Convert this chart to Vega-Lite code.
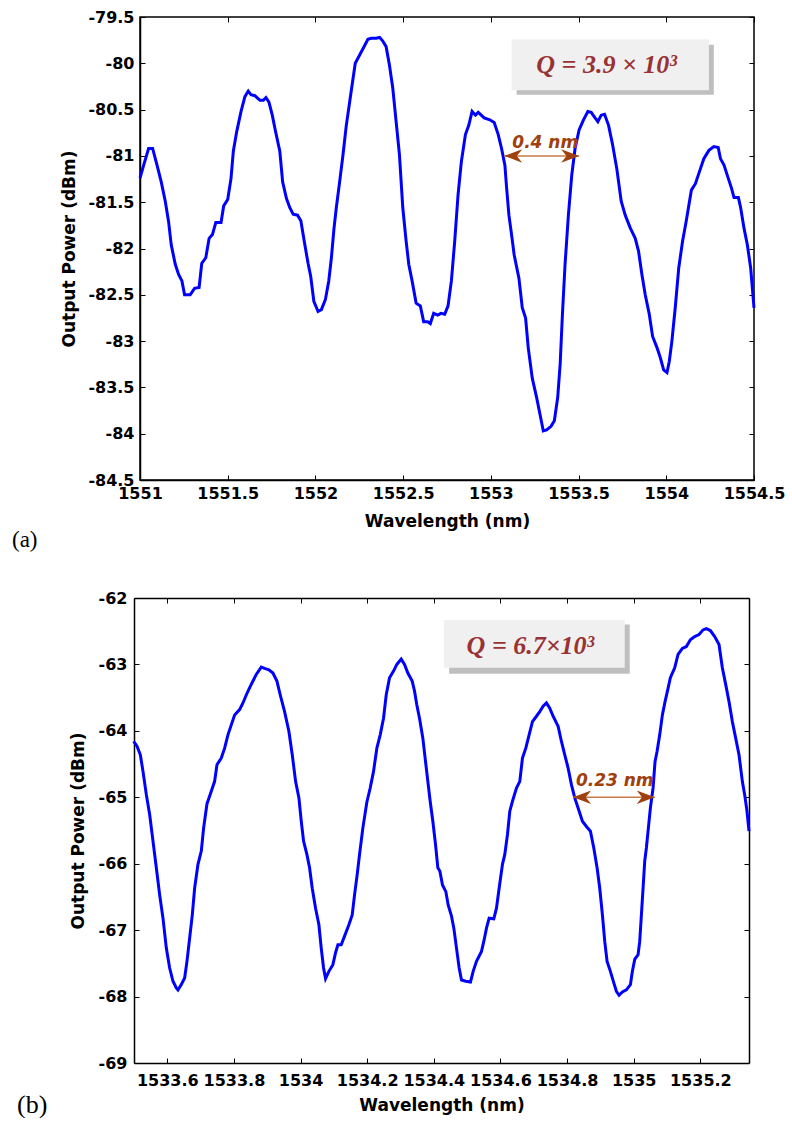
{
  "$schema": "https://vega.github.io/schema/vega-lite/v6.json",
  "background": "white",
  "padding": {"left": 11, "top": 8, "right": 5, "bottom": 0},
  "spacing": 37,
  "datasets": {
    "curveA": [
      {"x":1551.000,"y":-81.24},{"x":1551.021,"y":-81.10},{"x":1551.049,"y":-80.92},{"x":1551.072,"y":-80.92},{"x":1551.097,"y":-81.10},{"x":1551.121,"y":-81.28},{"x":1551.144,"y":-81.49},{"x":1551.163,"y":-81.71},{"x":1551.178,"y":-81.96},{"x":1551.201,"y":-82.17},{"x":1551.220,"y":-82.28},{"x":1551.239,"y":-82.35},{"x":1551.254,"y":-82.50},{"x":1551.286,"y":-82.50},{"x":1551.311,"y":-82.43},{"x":1551.337,"y":-82.42},{"x":1551.352,"y":-82.16},{"x":1551.375,"y":-82.10},{"x":1551.394,"y":-81.89},{"x":1551.413,"y":-81.85},{"x":1551.432,"y":-81.72},{"x":1551.462,"y":-81.72},{"x":1551.477,"y":-81.54},{"x":1551.500,"y":-81.47},{"x":1551.519,"y":-81.24},{"x":1551.532,"y":-80.95},{"x":1551.551,"y":-80.74},{"x":1551.576,"y":-80.52},{"x":1551.598,"y":-80.36},{"x":1551.617,"y":-80.30},{"x":1551.633,"y":-80.34},{"x":1551.655,"y":-80.35},{"x":1551.684,"y":-80.40},{"x":1551.703,"y":-80.40},{"x":1551.718,"y":-80.37},{"x":1551.735,"y":-80.42},{"x":1551.754,"y":-80.56},{"x":1551.773,"y":-80.74},{"x":1551.797,"y":-80.95},{"x":1551.813,"y":-81.28},{"x":1551.835,"y":-81.46},{"x":1551.854,"y":-81.56},{"x":1551.873,"y":-81.63},{"x":1551.898,"y":-81.64},{"x":1551.917,"y":-81.70},{"x":1551.936,"y":-81.92},{"x":1551.958,"y":-82.16},{"x":1551.973,"y":-82.30},{"x":1551.991,"y":-82.57},{"x":1552.015,"y":-82.68},{"x":1552.034,"y":-82.66},{"x":1552.057,"y":-82.55},{"x":1552.076,"y":-82.35},{"x":1552.091,"y":-82.10},{"x":1552.106,"y":-81.78},{"x":1552.119,"y":-81.56},{"x":1552.138,"y":-81.28},{"x":1552.157,"y":-80.99},{"x":1552.176,"y":-80.67},{"x":1552.201,"y":-80.34},{"x":1552.227,"y":-80.00},{"x":1552.252,"y":-79.91},{"x":1552.280,"y":-79.81},{"x":1552.299,"y":-79.74},{"x":1552.318,"y":-79.73},{"x":1552.347,"y":-79.73},{"x":1552.366,"y":-79.72},{"x":1552.384,"y":-79.76},{"x":1552.403,"y":-79.82},{"x":1552.422,"y":-80.02},{"x":1552.441,"y":-80.27},{"x":1552.460,"y":-80.63},{"x":1552.479,"y":-80.99},{"x":1552.498,"y":-81.56},{"x":1552.517,"y":-81.92},{"x":1552.532,"y":-82.17},{"x":1552.551,"y":-82.35},{"x":1552.574,"y":-82.59},{"x":1552.598,"y":-82.62},{"x":1552.617,"y":-82.79},{"x":1552.640,"y":-82.79},{"x":1552.655,"y":-82.81},{"x":1552.674,"y":-82.70},{"x":1552.697,"y":-82.72},{"x":1552.716,"y":-82.70},
      {"x":1552.737,"y":-82.71},{"x":1552.756,"y":-82.62},{"x":1552.775,"y":-82.35},{"x":1552.794,"y":-81.92},{"x":1552.813,"y":-81.42},{"x":1552.832,"y":-81.06},{"x":1552.855,"y":-80.77},{"x":1552.874,"y":-80.67},{"x":1552.893,"y":-80.52},{"x":1552.912,"y":-80.56},{"x":1552.928,"y":-80.53},{"x":1552.962,"y":-80.59},{"x":1552.994,"y":-80.61},{"x":1553.019,"y":-80.64},{"x":1553.042,"y":-80.77},{"x":1553.061,"y":-80.92},{"x":1553.080,"y":-81.10},{"x":1553.090,"y":-81.35},{"x":1553.103,"y":-81.64},{"x":1553.118,"y":-81.85},{"x":1553.133,"y":-82.07},{"x":1553.160,"y":-82.32},{"x":1553.179,"y":-82.64},{"x":1553.198,"y":-82.75},{"x":1553.213,"y":-83.07},{"x":1553.236,"y":-83.40},{"x":1553.261,"y":-83.61},{"x":1553.280,"y":-83.79},{"x":1553.299,"y":-83.97},{"x":1553.318,"y":-83.96},{"x":1553.343,"y":-83.92},{"x":1553.362,"y":-83.86},{"x":1553.381,"y":-83.61},{"x":1553.395,"y":-83.25},{"x":1553.408,"y":-82.71},{"x":1553.423,"y":-82.17},{"x":1553.442,"y":-81.64},{"x":1553.461,"y":-81.21},{"x":1553.480,"y":-80.92},{"x":1553.503,"y":-80.72},{"x":1553.528,"y":-80.61},{"x":1553.553,"y":-80.52},{"x":1553.572,"y":-80.53},{"x":1553.591,"y":-80.58},{"x":1553.610,"y":-80.63},{"x":1553.629,"y":-80.56},{"x":1553.648,"y":-80.55},{"x":1553.671,"y":-80.67},{"x":1553.694,"y":-80.88},{"x":1553.718,"y":-81.14},{"x":1553.743,"y":-81.49},{"x":1553.766,"y":-81.64},{"x":1553.795,"y":-81.78},{"x":1553.823,"y":-81.89},{"x":1553.842,"y":-82.03},{"x":1553.861,"y":-82.28},{"x":1553.880,"y":-82.50},{"x":1553.903,"y":-82.71},{"x":1553.922,"y":-82.95},{"x":1553.947,"y":-83.07},{"x":1553.966,"y":-83.18},{"x":1553.985,"y":-83.31},{"x":1554.004,"y":-83.34},{"x":1554.017,"y":-83.22},{"x":1554.032,"y":-83.00},{"x":1554.051,"y":-82.64},{"x":1554.071,"y":-82.21},{"x":1554.093,"y":-81.92},{"x":1554.113,"y":-81.71},{"x":1554.143,"y":-81.37},{"x":1554.166,"y":-81.30},{"x":1554.189,"y":-81.17},{"x":1554.214,"y":-81.03},{"x":1554.243,"y":-80.94},{"x":1554.271,"y":-80.90},{"x":1554.296,"y":-80.91},{"x":1554.309,"y":-81.03},{"x":1554.329,"y":-81.10},{"x":1554.353,"y":-81.24},{"x":1554.372,"y":-81.35},{"x":1554.386,"y":-81.45},{"x":1554.411,"y":-81.45},{"x":1554.424,"y":-81.56},{"x":1554.443,"y":-81.78},{"x":1554.462,"y":-81.96},{"x":1554.481,"y":-82.21},{"x":1554.500,"y":-82.64}
    ],
    "curveB": [
      {"x":1533.499,"y":-64.16},{"x":1533.509,"y":-64.23},{"x":1533.519,"y":-64.36},{"x":1533.527,"y":-64.61},{"x":1533.537,"y":-64.96},{"x":1533.547,"y":-65.26},{"x":1533.557,"y":-65.66},{"x":1533.567,"y":-66.06},{"x":1533.577,"y":-66.47},{"x":1533.587,"y":-66.82},{"x":1533.597,"y":-67.27},{"x":1533.607,"y":-67.57},{"x":1533.617,"y":-67.77},{"x":1533.627,"y":-67.87},{"x":1533.632,"y":-67.90},{"x":1533.642,"y":-67.82},{"x":1533.652,"y":-67.72},{"x":1533.659,"y":-67.47},{"x":1533.667,"y":-67.12},{"x":1533.675,"y":-66.77},{"x":1533.682,"y":-66.37},{"x":1533.692,"y":-66.01},{"x":1533.702,"y":-65.81},{"x":1533.709,"y":-65.46},{"x":1533.719,"y":-65.10},{"x":1533.732,"y":-64.91},{"x":1533.742,"y":-64.76},{"x":1533.749,"y":-64.51},{"x":1533.762,"y":-64.41},{"x":1533.772,"y":-64.26},{"x":1533.782,"y":-64.06},{"x":1533.792,"y":-63.91},{"x":1533.802,"y":-63.76},{"x":1533.817,"y":-63.68},{"x":1533.827,"y":-63.58},{"x":1533.837,"y":-63.46},{"x":1533.849,"y":-63.33},{"x":1533.859,"y":-63.23},{"x":1533.867,"y":-63.15},{"x":1533.882,"y":-63.04},{"x":1533.892,"y":-63.06},{"x":1533.905,"y":-63.08},{"x":1533.917,"y":-63.13},{"x":1533.929,"y":-63.25},{"x":1533.939,"y":-63.46},{"x":1533.952,"y":-63.71},{"x":1533.965,"y":-64.01},{"x":1533.975,"y":-64.36},{"x":1533.985,"y":-64.76},{"x":1533.995,"y":-65.01},{"x":1534.002,"y":-65.36},{"x":1534.009,"y":-65.66},{"x":1534.019,"y":-65.86},{"x":1534.027,"y":-66.06},{"x":1534.035,"y":-66.37},{"x":1534.045,"y":-66.67},{"x":1534.055,"y":-66.92},{"x":1534.062,"y":-67.27},{"x":1534.069,"y":-67.57},{"x":1534.075,"y":-67.73},{"x":1534.085,"y":-67.62},{"x":1534.097,"y":-67.52},{"x":1534.105,"y":-67.34},{"x":1534.112,"y":-67.22},{"x":1534.122,"y":-67.22},{"x":1534.132,"y":-67.09},{"x":1534.145,"y":-66.92},{"x":1534.155,"y":-66.77},{"x":1534.162,"y":-66.47},{"x":1534.170,"y":-66.16},{"x":1534.177,"y":-65.86},{"x":1534.187,"y":-65.46},{"x":1534.199,"y":-65.07},{"x":1534.209,"y":-64.86},{"x":1534.219,"y":-64.61},{"x":1534.229,"y":-64.26},{"x":1534.239,"y":-64.06},{"x":1534.249,"y":-63.81},{"x":1534.257,"y":-63.46},{"x":1534.267,"y":-63.20},{"x":1534.279,"y":-63.10},{"x":1534.289,"y":-63.00},{"x":1534.302,"y":-62.92},{"x":1534.312,"y":-63.00},{"x":1534.322,"y":-63.13},{"x":1534.335,"y":-63.25},{"x":1534.342,"y":-63.40},{"x":1534.349,"y":-63.61},{"x":1534.357,"y":-63.81},{"x":1534.367,"y":-64.11},{"x":1534.375,"y":-64.46},{"x":1534.382,"y":-64.76},{"x":1534.389,"y":-65.06},{"x":1534.397,"y":-65.36},{"x":1534.405,"y":-65.71},{"x":1534.412,"y":-66.06},
      {"x":1534.418,"y":-66.11},{"x":1534.426,"y":-66.32},{"x":1534.436,"y":-66.42},{"x":1534.443,"y":-66.62},{"x":1534.453,"y":-66.79},{"x":1534.460,"y":-66.97},{"x":1534.468,"y":-67.27},{"x":1534.476,"y":-67.57},{"x":1534.483,"y":-67.75},{"x":1534.496,"y":-67.77},{"x":1534.510,"y":-67.78},{"x":1534.518,"y":-67.62},{"x":1534.528,"y":-67.47},{"x":1534.543,"y":-67.32},{"x":1534.550,"y":-67.17},{"x":1534.558,"y":-66.97},{"x":1534.566,"y":-66.82},{"x":1534.580,"y":-66.83},{"x":1534.588,"y":-66.67},{"x":1534.596,"y":-66.37},{"x":1534.606,"y":-66.01},{"x":1534.613,"y":-65.86},{"x":1534.621,"y":-65.56},{"x":1534.628,"y":-65.21},{"x":1534.636,"y":-65.06},{"x":1534.648,"y":-64.86},{"x":1534.658,"y":-64.76},{"x":1534.666,"y":-64.41},{"x":1534.676,"y":-64.26},{"x":1534.686,"y":-64.06},{"x":1534.696,"y":-63.86},{"x":1534.708,"y":-63.78},{"x":1534.718,"y":-63.71},{"x":1534.728,"y":-63.63},{"x":1534.738,"y":-63.58},{"x":1534.748,"y":-63.66},{"x":1534.758,"y":-63.78},{"x":1534.773,"y":-63.93},{"x":1534.783,"y":-64.16},{"x":1534.793,"y":-64.36},{"x":1534.803,"y":-64.56},{"x":1534.813,"y":-64.81},{"x":1534.823,"y":-65.01},{"x":1534.833,"y":-65.16},{"x":1534.846,"y":-65.36},{"x":1534.858,"y":-65.44},{"x":1534.870,"y":-65.51},{"x":1534.880,"y":-65.76},{"x":1534.890,"y":-66.06},{"x":1534.898,"y":-66.37},{"x":1534.906,"y":-66.77},{"x":1534.913,"y":-67.17},{"x":1534.920,"y":-67.47},{"x":1534.930,"y":-67.62},{"x":1534.940,"y":-67.79},{"x":1534.948,"y":-67.92},{"x":1534.956,"y":-67.98},{"x":1534.966,"y":-67.93},{"x":1534.978,"y":-67.90},{"x":1534.990,"y":-67.82},{"x":1534.996,"y":-67.62},{"x":1535.003,"y":-67.44},{"x":1535.013,"y":-67.37},{"x":1535.018,"y":-67.17},{"x":1535.023,"y":-66.77},{"x":1535.028,"y":-66.37},{"x":1535.033,"y":-65.96},{"x":1535.038,"y":-65.76},{"x":1535.044,"y":-65.46},{"x":1535.050,"y":-65.16},{"x":1535.058,"y":-64.86},{"x":1535.064,"y":-64.46},{"x":1535.070,"y":-64.31},{"x":1535.078,"y":-64.06},{"x":1535.086,"y":-63.76},{"x":1535.094,"y":-63.56},{"x":1535.103,"y":-63.36},{"x":1535.110,"y":-63.20},{"x":1535.123,"y":-63.05},{"x":1535.133,"y":-62.85},{"x":1535.146,"y":-62.76},{"x":1535.158,"y":-62.73},{"x":1535.170,"y":-62.63},{"x":1535.183,"y":-62.58},{"x":1535.196,"y":-62.55},{"x":1535.208,"y":-62.48},{"x":1535.218,"y":-62.46},{"x":1535.230,"y":-62.49},{"x":1535.243,"y":-62.58},{"x":1535.256,"y":-62.70},{"x":1535.266,"y":-63.05},{"x":1535.276,"y":-63.30},{"x":1535.286,"y":-63.56},{"x":1535.296,"y":-63.86},{"x":1535.306,"y":-64.11},{"x":1535.316,"y":-64.36},{"x":1535.326,"y":-64.76},{"x":1535.333,"y":-64.96},{"x":1535.340,"y":-65.21},{"x":1535.346,"y":-65.51}
    ],
    "shadowA": [{"x":1553.147,"x2":1554.271,"y":-79.80,"y2":-80.34}],
    "boxA": [{"x":1553.118,"x2":1554.243,"y":-79.74,"y2":-80.29}],
    "qA": [{"x":1553.66,"y":-80.02,"label":"Q = 3.9 × 10³"}],
    "arrowA": [{"x":1553.076,"x2":1553.503,"y":-81.0}],
    "headLA": [{"x":1553.076,"y":-81.0}],
    "headRA": [{"x":1553.503,"y":-81.0}],
    "labA": [{"x":1553.31,"y":-80.86,"label":"0.4 nm"}],
    "shadowB": [{"x":1534.446,"x2":1534.988,"y":-62.40,"y2":-63.14}],
    "boxB": [{"x":1534.430,"x2":1534.973,"y":-62.33,"y2":-63.05}],
    "qB": [{"x":1534.69,"y":-62.72,"label":"Q = 6.7×10³"}],
    "arrowB": [{"x":1534.818,"x2":1535.063,"y":-65.0}],
    "headLB": [{"x":1534.818,"y":-65.0}],
    "headRB": [{"x":1535.063,"y":-65.0}],
    "labB": [{"x":1534.943,"y":-64.76,"label":"0.23 nm"}]
  },
  "vconcat": [
    {
      "width": 614,
      "height": 463,
      "title": {"text": "(a)", "orient": "bottom", "anchor": "start", "frame": "group", "dx": -128, "offset": 0, "fontSize": 23},
      "encoding": {
        "x": {"field": "x", "type": "quantitative", "scale": {"domain": [1551, 1554.5], "nice": false, "zero": false}, "axis": null},
        "y": {"field": "y", "type": "quantitative", "scale": {"domain": [-84.5, -79.5], "nice": false, "zero": false}, "axis": null}
      },
      "resolve": {"axis": {"x": "independent", "y": "independent"}},
      "layer": [
        {"data": {"name": "shadowA"}, "mark": {"type": "rect", "color": "#bfbfbf"},
         "encoding": {"x2": {"field": "x2"}, "y2": {"field": "y2"}}},
        {"data": {"name": "boxA"}, "mark": {"type": "rect", "color": "#f0f0f0"},
         "encoding": {"x2": {"field": "x2"}, "y2": {"field": "y2"}}},
        {"data": {"name": "qA"}, "mark": {"type": "text", "font": "Liberation Serif", "fontSize": 26, "fontWeight": "bold", "fontStyle": "italic", "color": "#993333"},
         "encoding": {"text": {"field": "label"}}},
        {"data": {"name": "curveA"}, "mark": {"type": "line", "color": "#0000ff", "strokeWidth": 3},
         "encoding": {
           "x": {"field": "x", "type": "quantitative", "scale": {"domain": [1551, 1554.5], "nice": false, "zero": false},
                 "axis": {"orient": "bottom", "title": "Wavelength (nm)", "values": [1551, 1551.5, 1552, 1552.5, 1553, 1553.5, 1554, 1554.5], "labelExpr": "datum.value + ''", "titlePadding": 12}},
           "y": {"field": "y", "type": "quantitative", "scale": {"domain": [-84.5, -79.5], "nice": false, "zero": false},
                 "axis": {"orient": "left", "title": "Output Power (dBm)", "values": [-84.5, -84, -83.5, -83, -82.5, -82, -81.5, -81, -80.5, -80, -79.5], "labelExpr": "datum.value + ''", "labelPadding": 11, "titlePadding": 9}}
         }},
        {"data": {"name": "arrowA"}, "mark": {"type": "rule", "color": "#c77a4a", "strokeWidth": 1.5},
         "encoding": {"x2": {"field": "x2"}}},
        {"data": {"name": "headLA"}, "mark": {"type": "point", "shape": "M0,0 L2,-0.75 L1.4,0 L2,0.75 Z", "size": 324, "filled": true, "color": "#a0400c", "opacity": 1}},
        {"data": {"name": "headRA"}, "mark": {"type": "point", "shape": "M0,0 L-2,-0.75 L-1.4,0 L-2,0.75 Z", "size": 324, "filled": true, "color": "#a0400c", "opacity": 1}},
        {"data": {"name": "labA"}, "mark": {"type": "text", "font": "DejaVu Sans", "fontSize": 17, "fontWeight": "bold", "fontStyle": "italic", "color": "#a0400c"},
         "encoding": {"text": {"field": "label"}}},
        {"data": {"name": "qA"}, "mark": {"type": "point", "opacity": 0},
         "encoding": {
           "x": {"field": "x", "type": "quantitative", "scale": {"domain": [1551, 1554.5], "nice": false, "zero": false},
                 "axis": {"orient": "top", "title": null, "labels": false, "domain": false, "values": [1551, 1551.5, 1552, 1552.5, 1553, 1553.5, 1554, 1554.5]}},
           "y": {"field": "y", "type": "quantitative", "scale": {"domain": [-84.5, -79.5], "nice": false, "zero": false},
                 "axis": {"orient": "right", "title": null, "labels": false, "domain": false, "values": [-84.5, -84, -83.5, -83, -82.5, -82, -81.5, -81, -80.5, -80, -79.5]}}
         }}
      ]
    },
    {
      "width": 609,
      "height": 465,
      "view": {"stroke": null},
      "title": {"text": "(b)", "orient": "bottom", "anchor": "start", "frame": "group", "dx": -123, "offset": -21, "fontSize": 26},
      "encoding": {
        "x": {"field": "x", "type": "quantitative", "scale": {"domain": [1533.5, 1535.346], "range": [-6, 609], "nice": false, "zero": false}, "axis": null},
        "y": {"field": "y", "type": "quantitative", "scale": {"domain": [-69, -62], "nice": false, "zero": false}, "axis": null}
      },
      "resolve": {"axis": {"x": "independent", "y": "independent"}},
      "layer": [
        {"data": {"name": "shadowB"}, "mark": {"type": "rect", "color": "#bfbfbf"},
         "encoding": {"x2": {"field": "x2"}, "y2": {"field": "y2"}}},
        {"data": {"name": "boxB"}, "mark": {"type": "rect", "color": "#f0f0f0"},
         "encoding": {"x2": {"field": "x2"}, "y2": {"field": "y2"}}},
        {"data": {"name": "qB"}, "mark": {"type": "text", "font": "Liberation Serif", "fontSize": 26, "fontWeight": "bold", "fontStyle": "italic", "color": "#993333"},
         "encoding": {"text": {"field": "label"}}},
        {"data": {"name": "curveB"}, "mark": {"type": "line", "color": "#0000ff", "strokeWidth": 3},
         "encoding": {
           "x": {"field": "x", "type": "quantitative", "scale": {"domain": [1533.5, 1535.346], "range": [-6, 609], "nice": false, "zero": false},
                 "axis": {"orient": "bottom", "title": "Wavelength (nm)", "values": [1533.6, 1533.8, 1534, 1534.2, 1534.4, 1534.6, 1534.8, 1535, 1535.2], "labelExpr": "datum.value + ''", "labelPadding": 14, "titlePadding": 9}},
           "y": {"field": "y", "type": "quantitative", "scale": {"domain": [-69, -62], "nice": false, "zero": false},
                 "axis": {"orient": "left", "offset": 6, "title": "Output Power (dBm)", "values": [-69, -68, -67, -66, -65, -64, -63, -62], "labelExpr": "datum.value + ''", "labelPadding": 12, "titlePadding": 11}}
         }},
        {"data": {"name": "arrowB"}, "mark": {"type": "rule", "color": "#c77a4a", "strokeWidth": 1.5},
         "encoding": {"x2": {"field": "x2"}}},
        {"data": {"name": "headLB"}, "mark": {"type": "point", "shape": "M0,0 L2,-0.75 L1.4,0 L2,0.75 Z", "size": 324, "filled": true, "color": "#a0400c", "opacity": 1}},
        {"data": {"name": "headRB"}, "mark": {"type": "point", "shape": "M0,0 L-2,-0.75 L-1.4,0 L-2,0.75 Z", "size": 324, "filled": true, "color": "#a0400c", "opacity": 1}},
        {"data": {"name": "labB"}, "mark": {"type": "text", "font": "DejaVu Sans", "fontSize": 17, "fontWeight": "bold", "fontStyle": "italic", "color": "#a0400c"},
         "encoding": {"text": {"field": "label"}}},
        {"data": {"name": "qB"}, "mark": {"type": "point", "opacity": 0},
         "encoding": {
           "x": {"field": "x", "type": "quantitative", "scale": {"domain": [1533.5, 1535.346], "range": [-6, 609], "nice": false, "zero": false},
                 "axis": {"orient": "top", "title": null, "labels": false, "domain": true, "values": [1533.6, 1533.8, 1534, 1534.2, 1534.4, 1534.6, 1534.8, 1535, 1535.2]}},
           "y": {"field": "y", "type": "quantitative", "scale": {"domain": [-69, -62], "nice": false, "zero": false},
                 "axis": {"orient": "right", "title": null, "labels": false, "domain": true, "values": [-69, -68, -67, -66, -65, -64, -63, -62]}}
         }}
      ]
    }
  ],
  "config": {
    "view": {"stroke": "black", "strokeWidth": 1.5},
    "axis": {
      "grid": false,
      "labelFont": "DejaVu Sans", "labelFontWeight": "bold", "labelFontSize": 16, "labelColor": "black",
      "titleFont": "DejaVu Sans", "titleFontWeight": "bold", "titleFontSize": 17, "titleColor": "black",
      "domainColor": "black", "domainWidth": 1.5,
      "tickColor": "black", "tickWidth": 1, "tickSize": -5,
      "labelOverlap": false, "labelFlush": false, "labelBound": false, "labelPadding": 10, "titlePadding": 8
    },
    "title": {"font": "Liberation Serif", "fontSize": 23, "fontWeight": "normal", "color": "black"}
  }
}
